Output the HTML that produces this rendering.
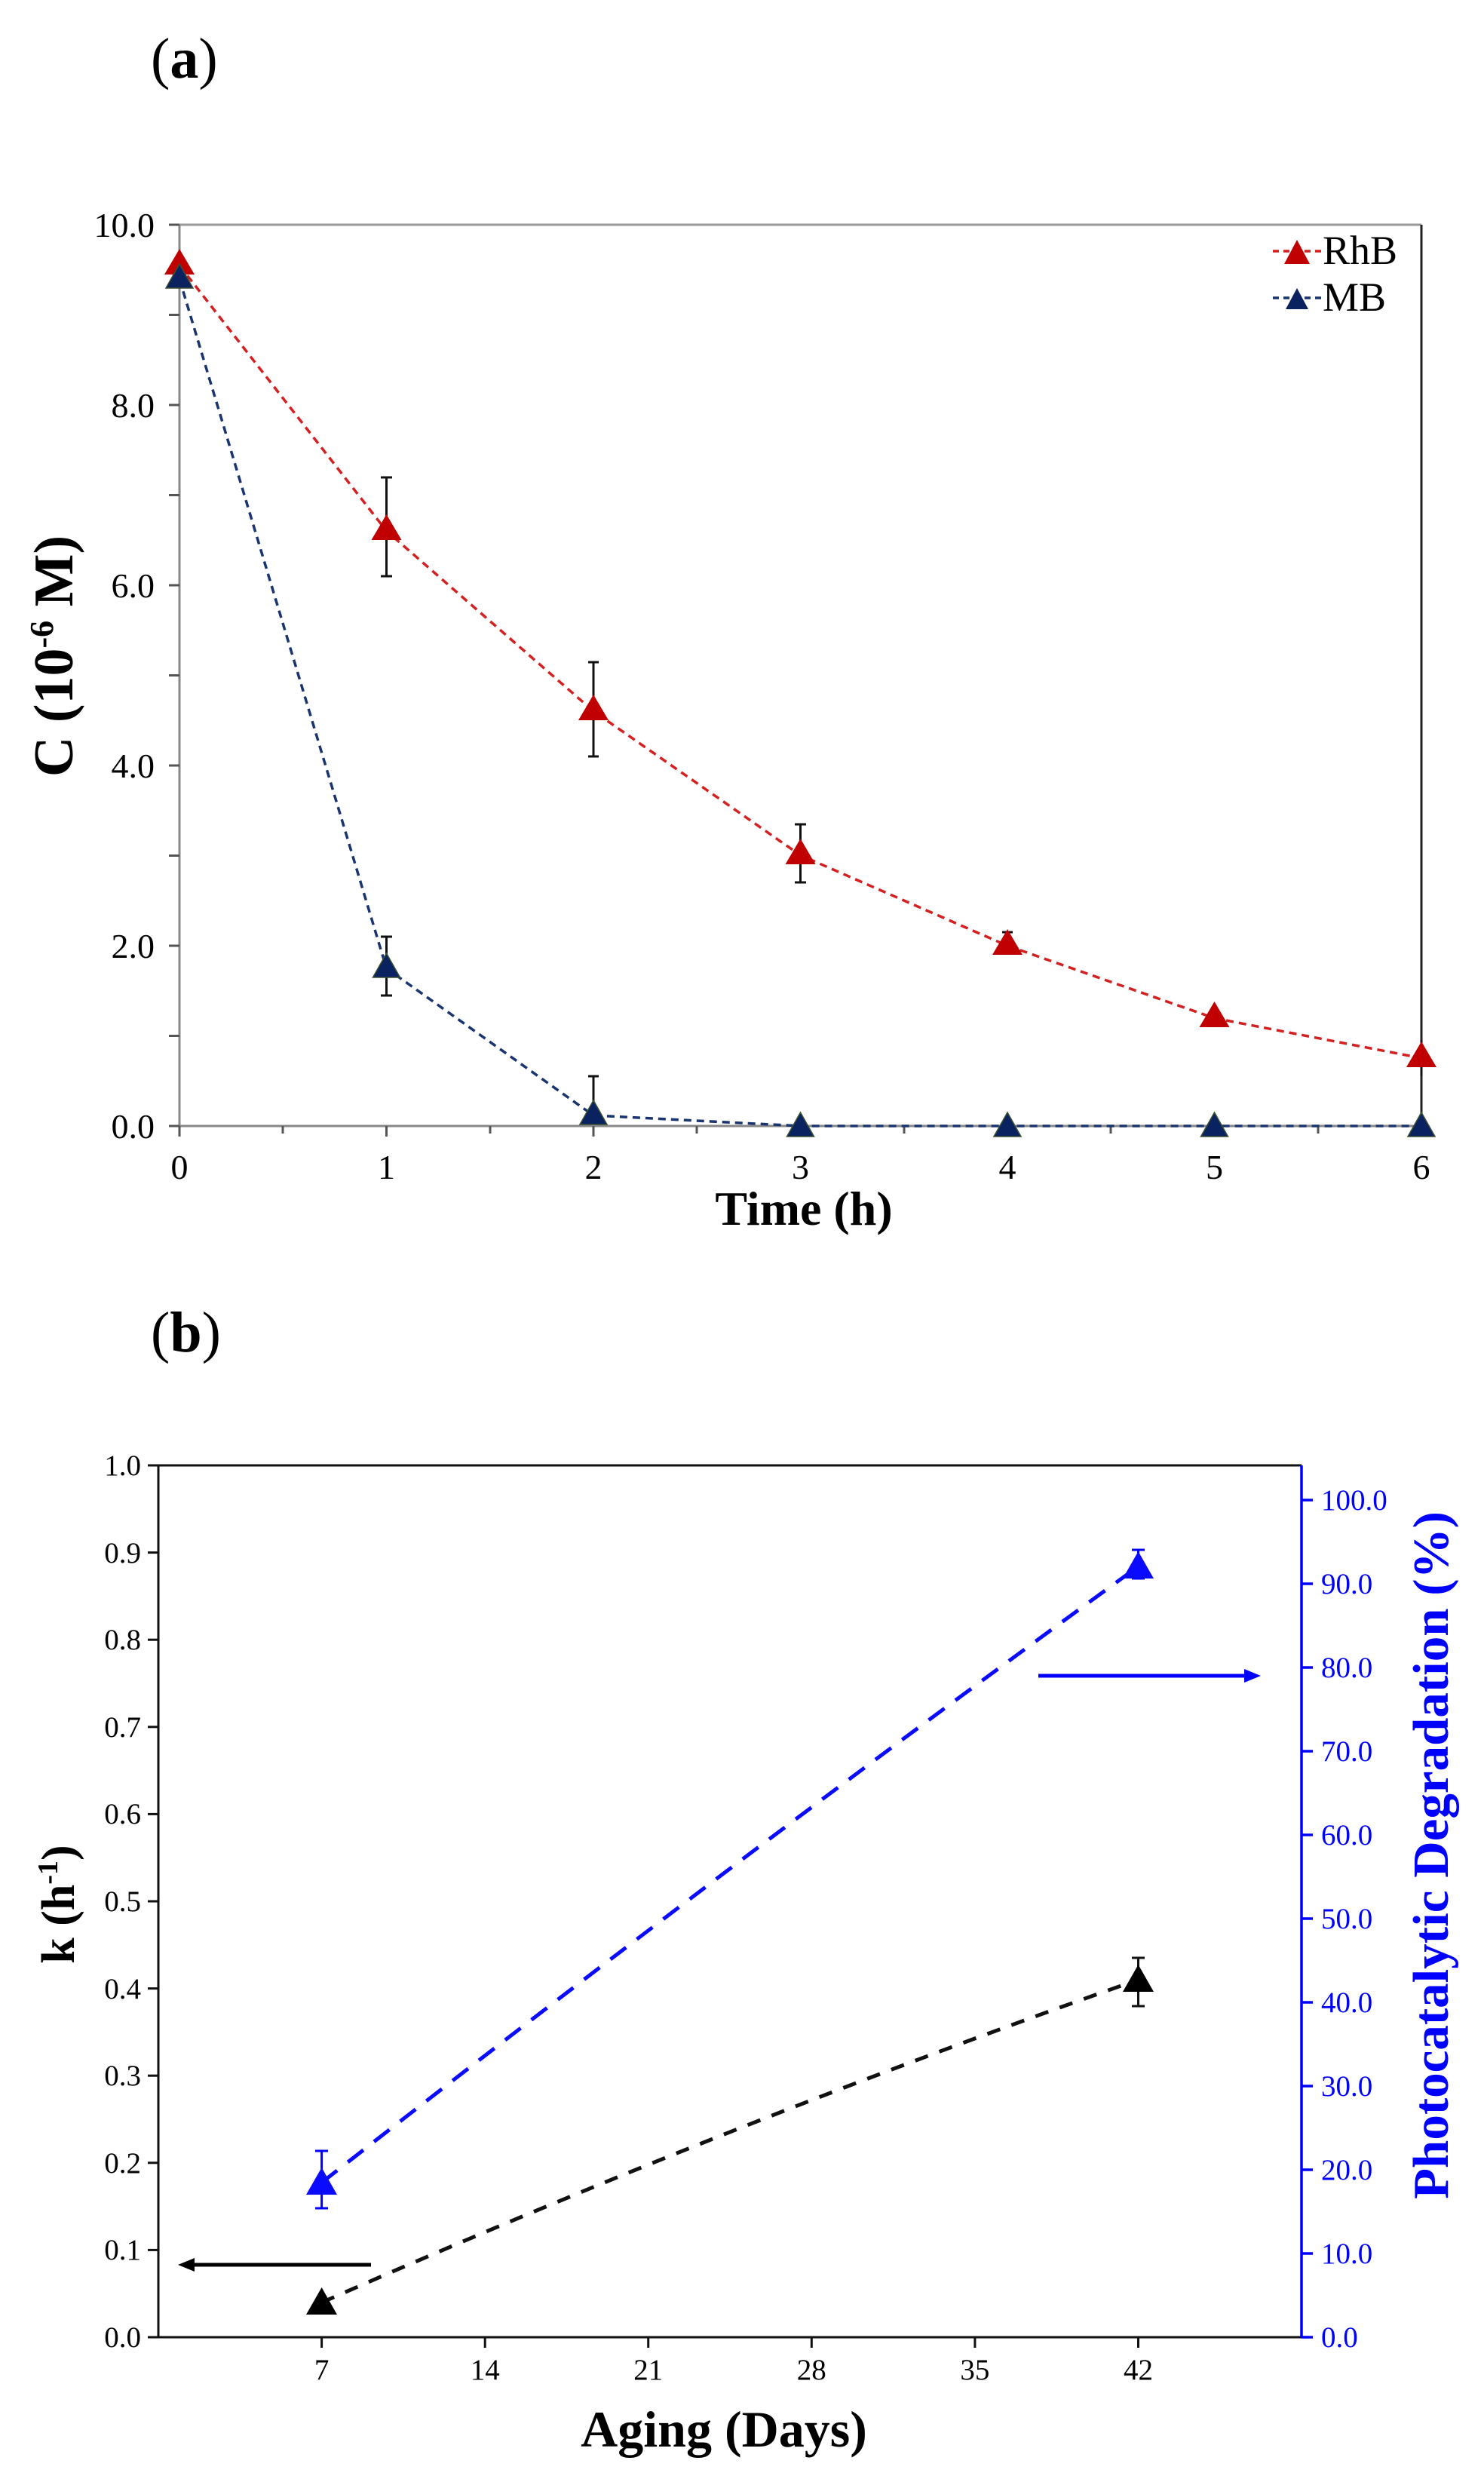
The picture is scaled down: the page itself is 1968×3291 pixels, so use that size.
<!DOCTYPE html>
<html><head><meta charset="utf-8"><style>body{margin:0;background:#fff}svg{display:block}</style></head><body>
<svg width="1968" height="3291" viewBox="0 0 1968 3291" xmlns="http://www.w3.org/2000/svg" font-family="Liberation Serif, serif">
<rect width="1968" height="3291" fill="#fff"/>
<text x="200" y="103" font-size="76">(<tspan font-weight="bold">a</tspan>)</text>
<line x1="238" y1="298" x2="1885" y2="298" stroke="#999" stroke-width="3"/>
<line x1="238" y1="298" x2="238" y2="1493" stroke="#888" stroke-width="3"/>
<line x1="1885" y1="298" x2="1885" y2="1493" stroke="#222" stroke-width="3"/>
<line x1="238" y1="1493" x2="1885" y2="1493" stroke="#888" stroke-width="3"/>
<g stroke="#555" stroke-width="3">
<line x1="224" y1="298" x2="238" y2="298"/><line x1="224" y1="417.5" x2="238" y2="417.5"/><line x1="224" y1="537" x2="238" y2="537"/><line x1="224" y1="656.5" x2="238" y2="656.5"/><line x1="224" y1="776" x2="238" y2="776"/><line x1="224" y1="895.5" x2="238" y2="895.5"/><line x1="224" y1="1015" x2="238" y2="1015"/><line x1="224" y1="1134.5" x2="238" y2="1134.5"/><line x1="224" y1="1254" x2="238" y2="1254"/><line x1="224" y1="1373.5" x2="238" y2="1373.5"/><line x1="224" y1="1493" x2="238" y2="1493"/>
<line x1="238" y1="1493" x2="238" y2="1507"/><line x1="375" y1="1493" x2="375" y2="1503"/><line x1="512.5" y1="1493" x2="512.5" y2="1507"/><line x1="650" y1="1493" x2="650" y2="1503"/><line x1="787" y1="1493" x2="787" y2="1507"/><line x1="924" y1="1493" x2="924" y2="1503"/><line x1="1061.5" y1="1493" x2="1061.5" y2="1507"/><line x1="1199" y1="1493" x2="1199" y2="1503"/><line x1="1336" y1="1493" x2="1336" y2="1507"/><line x1="1473" y1="1493" x2="1473" y2="1503"/><line x1="1610.5" y1="1493" x2="1610.5" y2="1507"/><line x1="1748" y1="1493" x2="1748" y2="1503"/><line x1="1885" y1="1493" x2="1885" y2="1507"/>
</g>
<g font-size="46" text-anchor="end">
<text x="205" y="314">10.0</text><text x="205" y="553">8.0</text><text x="205" y="792">6.0</text><text x="205" y="1031">4.0</text><text x="205" y="1270">2.0</text><text x="205" y="1509">0.0</text>
</g>
<g font-size="46" text-anchor="middle">
<text x="238" y="1563">0</text><text x="512.5" y="1563">1</text><text x="787" y="1563">2</text><text x="1061.5" y="1563">3</text><text x="1336" y="1563">4</text><text x="1610.5" y="1563">5</text><text x="1885" y="1563">6</text>
</g>
<text x="1066" y="1624" font-size="64" font-weight="bold" text-anchor="middle">Time (h)</text>
<text transform="translate(96,870) rotate(-90)" font-size="74" font-weight="bold" text-anchor="middle">C (10<tspan font-size="44" dy="-26">-6</tspan><tspan dy="26"> M)</tspan></text>
<g stroke="#111" stroke-width="3">
<line x1="512.5" y1="633" x2="512.5" y2="764"/><line x1="505" y1="633" x2="520" y2="633"/><line x1="505" y1="764" x2="520" y2="764"/>
<line x1="787" y1="878" x2="787" y2="1003"/><line x1="780" y1="878" x2="794" y2="878"/><line x1="780" y1="1003" x2="794" y2="1003"/>
<line x1="1061.5" y1="1093" x2="1061.5" y2="1170"/><line x1="1054" y1="1093" x2="1069" y2="1093"/><line x1="1054" y1="1170" x2="1069" y2="1170"/>
<line x1="1336" y1="1236" x2="1336" y2="1266"/><line x1="1329" y1="1236" x2="1343" y2="1236"/>
<line x1="1885" y1="1379" x2="1885" y2="1427"/>
<line x1="512.5" y1="1242" x2="512.5" y2="1320"/><line x1="505" y1="1242" x2="520" y2="1242"/><line x1="505" y1="1320" x2="520" y2="1320"/>
<line x1="787" y1="1427" x2="787" y2="1480"/><line x1="780" y1="1427" x2="794" y2="1427"/>
</g>
<polyline points="238,352 512.5,704 787,943 1061.5,1134 1336,1254 1610.5,1350 1885,1403" fill="none" stroke="#d42020" stroke-width="3.5" stroke-dasharray="10,7"/>
<polyline points="238,370 512.5,1284 787,1479 1061.5,1493 1336,1493 1610.5,1493 1885,1493" fill="none" stroke="#1a3470" stroke-width="3.5" stroke-dasharray="10,7"/>
<g fill="#c00000">
<polygon points="238,330 258,364 218,364"/><polygon points="512.5,682 532.5,716 492.5,716"/><polygon points="787,921 807,955 767,955"/><polygon points="1061.5,1112 1081.5,1146 1041.5,1146"/><polygon points="1336,1232 1356,1266 1316,1266"/><polygon points="1610.5,1328 1630.5,1362 1590.5,1362"/><polygon points="1885,1381 1905,1415 1865,1415"/>
</g>
<g fill="#0b2260" stroke="#3a5030" stroke-width="1.5">
<polygon points="238,350 256,382 220,382"/><polygon points="512.5,1264 530.5,1296 494.5,1296"/><polygon points="787,1459 805,1491 769,1491"/><polygon points="1061.5,1475 1079.5,1507 1043.5,1507"/><polygon points="1336,1475 1354,1507 1318,1507"/><polygon points="1610.5,1475 1628.5,1507 1592.5,1507"/><polygon points="1885,1475 1903,1507 1867,1507"/>
</g>
<line x1="1688" y1="333" x2="1752" y2="333" stroke="#d42020" stroke-width="3.5" stroke-dasharray="8,6"/>
<polygon points="1720,318 1737,350 1703,350" fill="#c00000"/>
<text x="1754" y="350" font-size="54">RhB</text>
<line x1="1688" y1="395" x2="1752" y2="395" stroke="#1a3470" stroke-width="3.5" stroke-dasharray="8,6"/>
<polygon points="1720,382 1735,410 1705,410" fill="#0b2260"/>
<text x="1754" y="412" font-size="54">MB</text>

<text x="200" y="1792" font-size="76">(<tspan font-weight="bold">b</tspan>)</text>
<line x1="196" y1="1943" x2="1726" y2="1943" stroke="#111" stroke-width="3"/>
<line x1="210" y1="1943" x2="210" y2="3099" stroke="#111" stroke-width="3"/>
<line x1="210" y1="3099" x2="1726" y2="3099" stroke="#111" stroke-width="3"/>
<line x1="1726" y1="1943" x2="1726" y2="3099" stroke="#00f" stroke-width="3.5"/>
<g stroke="#111" stroke-width="3">
<line x1="196" y1="2058.6" x2="210" y2="2058.6"/><line x1="196" y1="2174.2" x2="210" y2="2174.2"/><line x1="196" y1="2289.8" x2="210" y2="2289.8"/><line x1="196" y1="2405.4" x2="210" y2="2405.4"/><line x1="196" y1="2521" x2="210" y2="2521"/><line x1="196" y1="2636.6" x2="210" y2="2636.6"/><line x1="196" y1="2752.2" x2="210" y2="2752.2"/><line x1="196" y1="2867.8" x2="210" y2="2867.8"/><line x1="196" y1="2983.4" x2="210" y2="2983.4"/><line x1="196" y1="3099" x2="210" y2="3099"/>
<line x1="426.6" y1="3099" x2="426.6" y2="3113"/><line x1="643.2" y1="3099" x2="643.2" y2="3113"/><line x1="859.7" y1="3099" x2="859.7" y2="3113"/><line x1="1076.3" y1="3099" x2="1076.3" y2="3113"/><line x1="1292.9" y1="3099" x2="1292.9" y2="3113"/><line x1="1509.5" y1="3099" x2="1509.5" y2="3113"/>
</g>
<g font-size="39" text-anchor="end">
<text x="187" y="1956">1.0</text><text x="187" y="2072">0.9</text><text x="187" y="2187">0.8</text><text x="187" y="2303">0.7</text><text x="187" y="2418">0.6</text><text x="187" y="2534">0.5</text><text x="187" y="2650">0.4</text><text x="187" y="2765">0.3</text><text x="187" y="2881">0.2</text><text x="187" y="2996">0.1</text><text x="187" y="3112">0.0</text>
</g>
<g font-size="39" text-anchor="middle">
<text x="426.6" y="3155">7</text><text x="643.2" y="3155">14</text><text x="859.7" y="3155">21</text><text x="1076.3" y="3155">28</text><text x="1292.9" y="3155">35</text><text x="1509.5" y="3155">42</text>
</g>
<g stroke="#00f" stroke-width="3.5">
<line x1="1726" y1="3099" x2="1741" y2="3099"/><line x1="1726" y1="2988" x2="1741" y2="2988"/><line x1="1726" y1="2877" x2="1741" y2="2877"/><line x1="1726" y1="2766" x2="1741" y2="2766"/><line x1="1726" y1="2655" x2="1741" y2="2655"/><line x1="1726" y1="2544" x2="1741" y2="2544"/><line x1="1726" y1="2433" x2="1741" y2="2433"/><line x1="1726" y1="2322" x2="1741" y2="2322"/><line x1="1726" y1="2211" x2="1741" y2="2211"/><line x1="1726" y1="2100" x2="1741" y2="2100"/><line x1="1726" y1="1989" x2="1741" y2="1989"/>
</g>
<g font-size="39" fill="#00f">
<text x="1752" y="3112">0.0</text><text x="1752" y="3001">10.0</text><text x="1752" y="2890">20.0</text><text x="1752" y="2779">30.0</text><text x="1752" y="2668">40.0</text><text x="1752" y="2557">50.0</text><text x="1752" y="2446">60.0</text><text x="1752" y="2335">70.0</text><text x="1752" y="2224">80.0</text><text x="1752" y="2113">90.0</text><text x="1752" y="2002">100.0</text>
</g>
<text x="960" y="3244" font-size="68" font-weight="bold" text-anchor="middle">Aging (Days)</text>
<text transform="translate(98,2525) rotate(-90)" font-size="62" font-weight="bold" text-anchor="middle">k (h<tspan font-size="38" dy="-22">-1</tspan><tspan dy="22">)</tspan></text>
<text transform="translate(1920,2460) rotate(-90)" font-size="67" font-weight="bold" fill="#00f" text-anchor="middle">Photocatalytic Degradation (%)</text>
<path d="M426.6,3053 Q968,2815 1509.5,2625" fill="none" stroke="#111" stroke-width="5" stroke-dasharray="18,16"/>
<path d="M426.6,2894 Q968,2470 1509.5,2077" fill="none" stroke="#0a0aff" stroke-width="5" stroke-dasharray="26,18"/>
<g stroke="#111" stroke-width="3"><line x1="1509.5" y1="2596" x2="1509.5" y2="2660"/><line x1="1501" y1="2596" x2="1518" y2="2596"/><line x1="1501" y1="2660" x2="1518" y2="2660"/></g>
<g stroke="#00f" stroke-width="3"><line x1="426.6" y1="2852" x2="426.6" y2="2928"/><line x1="418" y1="2852" x2="435" y2="2852"/><line x1="418" y1="2928" x2="435" y2="2928"/><line x1="1509.5" y1="2055" x2="1509.5" y2="2093"/><line x1="1501" y1="2055" x2="1518" y2="2055"/><line x1="1501" y1="2093" x2="1518" y2="2093"/></g>
<polygon points="426.6,3033 447,3069 406,3069" fill="#000"/>
<polygon points="1509.5,2605 1530,2641 1489,2641" fill="#000"/>
<polygon points="426.6,2874 447,2910 406,2910" fill="#0a0aff"/>
<polygon points="1509.5,2057 1530,2093 1489,2093" fill="#0a0aff"/>
<line x1="252" y1="3003" x2="492" y2="3003" stroke="#000" stroke-width="5"/>
<polygon points="236,3003 258,2994 258,3012" fill="#000"/>
<line x1="1377" y1="2222" x2="1655" y2="2222" stroke="#00f" stroke-width="5"/>
<polygon points="1672,2222 1650,2213 1650,2231" fill="#00f"/>
</svg>
</body></html>
